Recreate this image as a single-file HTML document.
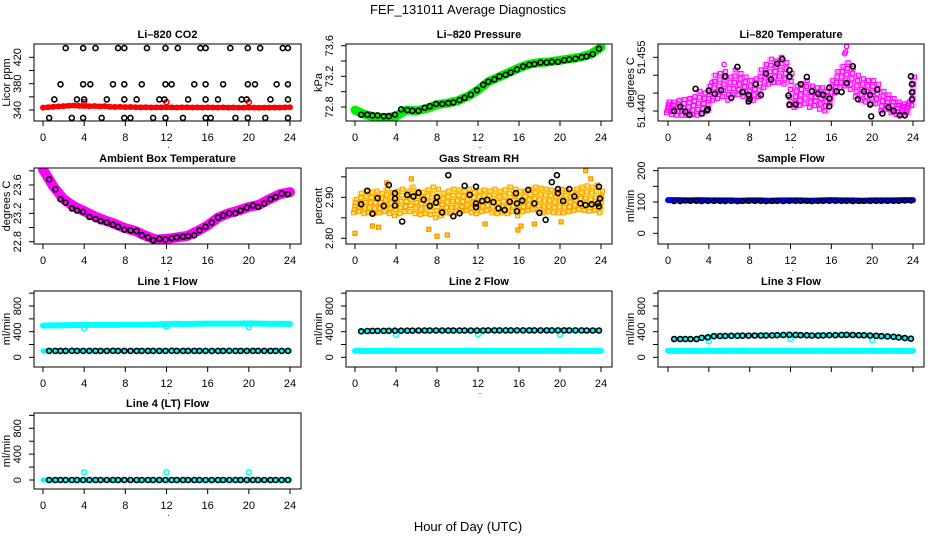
<!DOCTYPE html>
<html><head><meta charset="utf-8"><style>
html,body{margin:0;padding:0;background:#fff;}
svg{display:block;font-family:"Liberation Sans",sans-serif;}
</style></head><body>
<svg id="fig" width="936" height="540" viewBox="0 0 936 540" xmlns="http://www.w3.org/2000/svg">
<text x="468" y="14" text-anchor="middle" font-size="13">FEF_131011  Average Diagnostics</text>
<text x="468" y="531" text-anchor="middle" font-size="13">Hour of Day (UTC)</text>
</svg>
<script>
// ---------- data ----------
const tBlk = [0.6,1.2,1.7,2.2,2.8,3.3,3.9,4.5,5.1,5.6,6.2,6.8,7.3,7.9,8.5,9.1,9.6,10.2,10.7,11.3,11.9,12.5,13.0,13.6,14.1,14.7,15.2,15.8,16.4,17.0,17.5,18.1,18.7,19.2,19.8,20.4,20.9,21.5,22.1,22.6,23.2,23.8];
const tHour = [0,1,2,3,4,5,6,7,8,9,10,11,12,13,14,15,16,17,18,19,20,21,22,23,24];
const tHalf = [0,0.5,1,1.5,2,2.5,3,3.5,4,4.5,5,5.5,6,6.5,7,7.5,8,8.5,9,9.5,10,10.5,11,11.5,12,12.5,13,13.5,14,14.5,15,15.5,16,16.5,17,17.5,18,18.5,19,19.5,20,20.5,21,21.5,22,22.5,23,23.5,24];
const tSpike = [4,12,20];

// CO2
const co2Red = [343.6,344.2,344.8,345.3,345.9,346.5,346.8, 346.2,346.0,345.6,346.1,345.4,345.8,345.0, 344.6,344.8,344.3,344.5,344.2,344.0,344.2, 343.8,344.0,343.9,344.1,344.0,343.8,343.9, 344.0,343.8,343.9,343.7,343.9,343.8,343.7, 343.9,343.6,343.8,343.7,343.6,343.8,343.7, 343.5,343.7,343.6,343.8,343.7,343.9,344.2];
const co2RedSpike = [352,352,352];
const co2BlkT = [2.2,3.9,5.1,7.3,7.9,10.1,11.9,13.1,15.3,15.8,18.2,19.9,21.1,23.3,23.8, 1.7,3.9,4.6,6.8,7.9,9.6,11.9,12.5,14.7,15.8,17.5,19.9,20.6,22.7,23.8, 1.1,3.3,4.0,6.2,7.9,9.1,11.3,11.8,14.1,15.8,17.0,19.3,19.8,22.1,23.8, 0.6,2.8,3.9,5.7,7.9,8.5,10.7,11.9,13.6,15.8,16.3,18.7,19.9,21.6,23.8];
const co2BlkV = [434,434,434,434,434,434,434,434,434,434,434,434,434,434,434, 379,379,379,379,379,379,379,379,379,379,379,379,379,379,379, 356,356,356,356,356,356,356,356,356,356,356,356,356,356,356, 328,328,328,328,328,328,328,328,328,328,328,328,328,328,328];

// Pressure
const presGreen = [72.76,72.70,72.67,72.66,72.68,72.76,72.75,72.78,72.83,72.85,72.88,72.94,73.02,73.13,73.19,73.25,73.31,73.36,73.38,73.39,73.41,73.43,73.45,73.49,73.58];
const presBlk = [72.70,72.70,72.69,72.69,72.68,72.68,72.70,72.77,72.76,72.75,72.75,72.79,72.81,72.84,72.84,72.85,72.86,72.89,72.92,72.96,73.02,73.09,73.13,73.16,73.20,73.22,73.25,73.29,73.33,73.35,73.36,73.38,73.38,73.39,73.39,73.41,73.42,73.43,73.45,73.46,73.49,73.56];

// Li-820 temperature
const tempLo = [51.4395,51.4390,51.4388,51.4388,51.4388,51.4390,51.4388,51.4392,51.4400,51.4430,51.4435,51.4440,51.4430,51.4445,51.4445,51.4440,51.4425,51.4430,51.4440,51.4465,51.4475,51.4480,51.4480,51.4475,51.4415,51.4410,51.4415,51.4420,51.4410,51.4415,51.4405,51.4400,51.4420,51.4450,51.4465,51.4470,51.4460,51.4440,51.4430,51.4425,51.4420,51.4420,51.4400,51.4405,51.4395,51.4390,51.4390,51.4395,51.4415];
const tempHi = [51.4425,51.4425,51.4430,51.4432,51.4435,51.4440,51.4455,51.4450,51.4470,51.4500,51.4505,51.4510,51.4495,51.4515,51.4505,51.4495,51.4485,51.4490,51.4515,51.4530,51.4545,51.4540,51.4550,51.4535,51.4505,51.4470,51.4475,51.4485,51.4470,51.4465,51.4465,51.4455,51.4485,51.4510,51.4525,51.4535,51.4520,51.4500,51.4490,51.4485,51.4485,51.4475,51.4455,51.4445,51.4435,51.4425,51.4420,51.4425,51.4495];
const tempBlkT = [0.6,1.2,1.7,2.1,2.7,3.3,3.8,3.9,4.0,4.6,5.2,5.6,6.2,6.8,7.3,7.9,7.9,8.0,8.6,9.1,9.6,10.1,10.7,11.2,11.9,11.9,11.8,11.9,12.5,13.0,13.6,14.1,14.7,15.2,15.8,15.8,15.8,16.5,17.0,17.5,18.1,18.6,19.2,19.8,19.8,19.9,20.5,21.0,21.6,22.1,22.7,23.2,23.8,23.9,23.9,23.9];
const tempBlkV = [51.4400,51.4412,51.4398,51.4389,51.4462,51.4393,51.4402,51.4405,51.4457,51.4448,51.4458,51.4497,51.4437,51.4523,51.4453,51.4445,51.4427,51.4433,51.4475,51.4445,51.4505,51.4488,51.4532,51.4545,51.4514,51.4496,51.4443,51.4418,51.4418,51.4475,51.4495,51.4455,51.4448,51.4445,51.4435,51.4465,51.4413,51.4455,51.4453,51.4478,51.4525,51.4433,51.4455,51.4445,51.4418,51.4385,51.4460,51.4393,51.4410,51.4400,51.4388,51.4388,51.4497,51.4475,51.4452,51.4432];
const tempSpikeT = [17.3,17.5,17.4,4.3,5.5];
const tempSpikeV = [51.4560,51.4580,51.4565,51.4480,51.4530];

// Ambient box temperature
const ambMag = [23.82,23.58,23.40,23.30,23.23,23.16,23.10,23.05,22.99,22.95,22.88,22.83,22.84,22.86,22.88,22.95,23.03,23.14,23.20,23.24,23.29,23.32,23.40,23.47,23.50];
const ambBlk = [23.68,23.54,23.40,23.35,23.27,23.24,23.22,23.15,23.12,23.09,23.07,23.04,23.01,22.97,22.96,22.95,22.89,22.86,22.82,22.84,22.83,22.85,22.86,22.87,22.88,22.89,22.96,23.01,23.07,23.14,23.17,23.20,23.20,23.24,23.28,23.31,23.29,23.34,23.40,23.43,23.48,23.47];

// Gas stream RH
const rhLo = [2.862,2.865,2.860,2.862,2.860,2.862,2.865,2.860,2.855,2.860,2.865,2.865,2.860,2.858,2.860,2.858,2.850,2.855,2.862,2.860,2.865,2.865,2.868,2.862,2.860,2.865,2.868,2.862,2.860,2.862,2.860,2.865,2.855,2.865,2.868,2.870,2.865,2.862,2.865,2.862,2.862,2.862,2.865,2.868,2.870,2.868,2.866,2.868,2.862];
const rhHi = [2.895,2.910,2.915,2.912,2.915,2.910,2.920,2.912,2.915,2.920,2.915,2.925,2.915,2.912,2.918,2.925,2.920,2.910,2.915,2.920,2.918,2.915,2.920,2.912,2.915,2.918,2.915,2.920,2.915,2.918,2.925,2.920,2.915,2.915,2.920,2.925,2.922,2.920,2.918,2.915,2.920,2.918,2.912,2.920,2.925,2.928,2.925,2.930,2.915];
const rhOutT = [0,1.7,2.3,7.2,8.0,9.0,12.7,15.9,16.2,17.5,22.5,5.5,23.0,3.1,20.1];
const rhOutV = [2.812,2.830,2.827,2.822,2.805,2.808,2.835,2.820,2.830,2.835,2.965,2.945,2.945,2.935,2.840];
const rhBlkT = [0.6,1.2,1.7,2.2,2.8,3.3,3.9,3.9,3.9,4.6,5.1,5.7,6.2,6.7,7.3,7.9,8.0,8.5,9.1,9.6,10.2,10.7,11.2,11.8,11.8,11.8,12.4,12.9,13.5,14.0,14.6,15.1,15.7,15.8,15.8,16.3,16.9,17.5,18.0,18.6,19.2,19.7,19.8,19.8,20.3,20.9,21.4,22.0,22.5,23.1,23.7,23.8,23.8,23.9];
const rhBlkV = [2.883,2.916,2.860,2.898,2.879,2.930,2.910,2.897,2.880,2.841,2.906,2.902,2.911,2.894,2.879,2.887,2.900,2.863,2.954,2.854,2.861,2.928,2.906,2.926,2.885,2.876,2.891,2.894,2.888,2.873,2.869,2.889,2.910,2.885,2.866,2.892,2.918,2.885,2.862,2.845,2.937,2.954,2.920,2.910,2.891,2.920,2.902,2.885,2.881,2.883,2.885,2.926,2.878,2.897];

// Sample flow
const sfBlue = [106,106,105,106,105,105,105,104,105,105,104,105,105,105,104,105,106,105,105,104,105,105,105,106,106];
const sfBlk = [102,102,104,103,103,102,103,103,103,102,103,102,103,103,103,103,102,103,103,102,103,103,103,103,102,103,103,103,103,103,103,102,103,103,103,103,103,103,103,103,104,104];

// Line flows
const l1Cyan = [495,498,500,502,505,505,505,506,508,508,510,510,520,522,520,524,526,526,525,526,528,526,524,522,520];
const l1Blk = [100,100,100,100,101,100,100,100,100,100,100,101,100,100,100,100,100,100,100,100,100,101,100,100,100,100,100,100,100,100,100,101,100,100,100,100,100,100,100,100,100,100];
const l1Spike = [455,480,470];
const l2Cyan = [100,100,100,100,100,100,100,100,100,100,100,100,100,100,100,100,100,100,100,100,100,100,100,100,100];
const l2Blk = [405,410,412,412,412,413,415,415,416,416,418,418,418,418,418,418,418,418,418,418,418,418,420,420,420,420,420,420,420,420,420,420,420,420,420,420,420,420,420,418,418,418];
const l2Spike = [350,360,355];
const l3Cyan = [100,100,100,100,100,100,100,100,100,100,100,100,100,100,100,100,100,100,100,100,100,100,100,100,100];
const l3Blk = [285,285,285,285,285,305,312,330,332,333,335,335,338,338,340,340,340,342,345,348,350,348,345,343,340,340,342,345,345,348,350,348,345,343,340,335,330,325,320,310,300,290];
const l3Spike = [250,285,270];
const l4Cyan = [0,0,0,0,0,0,0,0,0,0,0,0,0,0,0,0,0,0,0,0,0,0,0,0,0];
const l4Blk = [0,0,0,0,0,0,0,0,0,0,0,0,0,0,0,0,0,0,0,0,0,0,0,0,0,0,0,0,0,0,0,0,0,0,0,0,0,0,0,0,0,0];
const l4Spike = [120,120,120];

const xTicks = [0,4,8,12,16,20,24];

// ---------- drawing ----------
const NS = 'http://www.w3.org/2000/svg';
const svg = document.getElementById('fig');
const COLS = [[34,301,43,290],[346,612,355,601],[658,924,668,913]];
const ROWS = [[44,121],[168,244],[291,367],[413,489]];

function mk(parent, tag, attrs, name) {
  const el = document.createElementNS(NS, tag);
  for (const k in attrs) el.setAttribute(k, attrs[k]);
  
  
  parent.appendChild(el);
  return el;
}

function panel(cfg) {
  const [L, R, x0, x24] = COLS[cfg.col];
  const [T, B] = ROWS[cfg.row];
  const g = mk(svg, 'g', {}, cfg.name);
  const X = h => x0 + h * (x24 - x0) / 24;
  const Y = v => cfg.y1 + (v - cfg.v1) * (cfg.y2 - cfg.y1) / (cfg.v2 - cfg.v1);
  const cid = 'clip-' + cfg.name;
  const cp = mk(g, 'clipPath', {id: cid}, cfg.name + '-clip');
  mk(cp, 'rect', {x: L, y: T, width: R - L, height: B - T}, cfg.name + '-clip-rect');
  const plot = mk(g, 'g', {'clip-path': 'url(#' + cid + ')'}, cfg.name + '-plot-area');
  const t = mk(g, 'text', {x: (L + R) / 2, y: T - 6, 'text-anchor': 'middle', 'font-size': 11, 'font-weight': 'bold'}, cfg.name + '-title');
  t.textContent = cfg.title;
  xTicks.forEach(h => {
    mk(g, 'line', {x1: X(h), x2: X(h), y1: B, y2: B + 5, stroke: '#000'}, 'x-tick');
    if (cfg.xlabels) {
      const tx = mk(g, 'text', {x: X(h), y: B + 20, 'text-anchor': 'middle', 'font-size': 11}, 'x-tick-label');
      tx.textContent = h;
    }
  });
  if (cfg.xlabels) {
    const d = mk(g, 'text', {x: X(12) + 2, y: B + 27, 'text-anchor': 'middle', 'font-size': 9}, 'x-axis-label');
    d.textContent = '.';
  }
  cfg.ticks.forEach(v => {
    mk(g, 'line', {x1: L - 5, x2: L, y1: Y(v), y2: Y(v), stroke: '#000'}, 'y-tick');
  });
  cfg.labels.forEach((lab, i) => {
    const yy = Y(cfg.labelVals[i]);
    const tx = mk(g, 'text', {x: L - 13, y: yy, 'text-anchor': 'middle', 'font-size': 11, transform: 'rotate(-90 ' + (L - 13) + ' ' + yy + ')'}, 'y-tick-label');
    tx.textContent = lab;
  });
  const yt = mk(g, 'text', {x: L - 24, y: (T + B) / 2, 'text-anchor': 'middle', 'font-size': 11, transform: 'rotate(-90 ' + (L - 24) + ' ' + ((T + B) / 2) + ')'}, 'y-axis-title');
  yt.textContent = cfg.ylab;
  mk(g, 'rect', {x: L, y: T, width: R - L, height: B - T, fill: 'none', stroke: '#000'}, cfg.name + '-frame');
  return {g: plot, X, Y};
}

function band(p, ts, vs, color, w, name) {
  const pts = ts.map((h, i) => p.X(h).toFixed(1) + ',' + p.Y(vs[i]).toFixed(1)).join(' ');
  mk(p.g, 'polyline', {points: pts, fill: 'none', stroke: color, 'stroke-width': w, 'stroke-linejoin': 'round', 'stroke-linecap': 'round'}, name);
}
function pts(p, ts, vs, color, r, sw, name) {
  ts.forEach((h, i) => {
    mk(p.g, 'circle', {cx: p.X(h), cy: p.Y(vs[i]), r: r, fill: 'none', stroke: color, 'stroke-width': sw}, name);
  });
}
function cloud(p, ts, lo, hi, fillc, strokec, name) {
  ts.forEach((h, i) => {
    const yl = p.Y(lo[i]), yh = p.Y(hi[i]);
    mk(p.g, 'rect', {x: p.X(h) - 3, y: Math.min(yl, yh) - 2, width: 6.5, height: Math.abs(yl - yh) + 4, fill: fillc}, name);
    [0, 0.25, 0.5, 0.75, 1].forEach(f => {
      const v = lo[i] + (hi[i] - lo[i]) * f;
      mk(p.g, 'rect', {x: p.X(h + (f - 0.5) * 0.3) - 2, y: p.Y(v) - 2, width: 4, height: 4, fill: 'none', stroke: strokec, 'stroke-width': 1}, name + '-point');
    });
  });
}

const flowTicks = [0,200,400,600,800,1000];

let p = panel({name: 'co2-panel', col: 0, row: 0, title: 'Li\u2013820 CO2', ylab: 'Licor ppm', v1: 340, y1: 110, v2: 420, y2: 57.3, ticks: [340,360,380,400,420], labels: ['340','380','420'], labelVals: [340,380,420], xlabels: true});
band(p, tHalf, co2Red, '#ff0000', 5, 'co2-red-band');
pts(p, tHalf, co2Red, '#ff0000', 2.3, 1.4, 'co2-red-point');
pts(p, tSpike, co2RedSpike, '#ff0000', 2.5, 1.5, 'co2-red-spike');
pts(p, co2BlkT, co2BlkV, '#000', 2.5, 1.6, 'co2-black-point');

p = panel({name: 'pressure-panel', col: 1, row: 0, title: 'Li\u2013820 Pressure', ylab: 'kPa', v1: 72.8, y1: 107, v2: 73.6, y2: 45.7, ticks: [72.8,73.0,73.2,73.4,73.6], labels: ['72.8','73.2','73.6'], labelVals: [72.8,73.2,73.6], xlabels: true});
band(p, tHour, presGreen, '#00ee00', 9, 'pressure-green-band');
pts(p, tBlk, presBlk, '#000', 2.5, 1.6, 'pressure-black-point');

p = panel({name: 'temperature-panel', col: 2, row: 0, title: 'Li\u2013820 Temperature', ylab: 'degrees C', v1: 51.440, y1: 111, v2: 51.455, y2: 57.3, ticks: [51.440,51.445,51.450,51.455], labels: ['51.440','51.455'], labelVals: [51.440,51.455], xlabels: true});
cloud(p, tHalf, tempLo, tempHi, 'rgba(255,0,255,0.3)', '#ff00ff', 'temperature-magenta');
pts(p, tempSpikeT, tempSpikeV, '#ff00ff', 2.2, 1.3, 'temperature-magenta-spike');
pts(p, tempBlkT, tempBlkV, '#000', 2.5, 1.6, 'temperature-black-point');

p = panel({name: 'ambient-panel', col: 0, row: 1, title: 'Ambient Box Temperature', ylab: 'degrees C', v1: 22.8, y1: 241.7, v2: 23.6, y2: 185, ticks: [22.8,23.0,23.2,23.4,23.6,23.8], labels: ['22.8','23.2','23.6'], labelVals: [22.8,23.2,23.6], xlabels: true});
band(p, tHour, ambMag, '#ff00ff', 10, 'ambient-magenta-band');
pts(p, tBlk, ambBlk, '#000', 2.5, 1.6, 'ambient-black-point');

p = panel({name: 'rh-panel', col: 1, row: 1, title: 'Gas Stream RH', ylab: 'percent', v1: 2.80, y1: 238.3, v2: 2.90, y2: 197.3, ticks: [2.80,2.85,2.90,2.95], labels: ['2.80','2.90'], labelVals: [2.80,2.90], xlabels: true});
cloud(p, tHalf, rhLo, rhHi, 'rgba(255,215,0,0.55)', '#ff9900', 'rh-orange');
rhOutT.forEach((h, i) => {
  mk(p.g, 'rect', {x: p.X(h) - 2, y: p.Y(rhOutV[i]) - 2, width: 4, height: 4, fill: '#ffd700', stroke: '#ff8c00', 'stroke-width': 1.2}, 'rh-orange-outlier');
});
pts(p, rhBlkT, rhBlkV, '#000', 2.5, 1.6, 'rh-black-point');

p = panel({name: 'sample-flow-panel', col: 2, row: 1, title: 'Sample Flow', ylab: 'ml/min', v1: 0, y1: 233.3, v2: 200, y2: 170.7, ticks: [0,50,100,150,200], labels: ['0','100','200'], labelVals: [0,100,200], xlabels: true});
band(p, tHour, sfBlue, '#0000ff', 6, 'sample-flow-blue-band');
pts(p, tBlk, sfBlk, '#000', 2.3, 1.5, 'sample-flow-black-point');

p = panel({name: 'line1-flow-panel', col: 0, row: 2, title: 'Line 1 Flow', ylab: 'ml/min', v1: 0, y1: 357.3, v2: 800, y2: 306, ticks: flowTicks, labels: ['0','400','800'], labelVals: [0,400,800], xlabels: true});
band(p, tHour, l1Cyan, '#00ffff', 6, 'line1-cyan-band');
pts(p, tSpike, l1Spike, '#00ffff', 2.5, 1.5, 'line1-cyan-spike');
band(p, [0,24], [100,100], '#00ffff', 5, 'line1-cyan-low');
pts(p, tBlk, l1Blk, '#000', 2.5, 1.6, 'line1-black-point');

p = panel({name: 'line2-flow-panel', col: 1, row: 2, title: 'Line 2 Flow', ylab: 'ml/min', v1: 0, y1: 357.3, v2: 800, y2: 306, ticks: flowTicks, labels: ['0','400','800'], labelVals: [0,400,800], xlabels: true});
band(p, tHour, l2Cyan, '#00ffff', 6, 'line2-cyan-band');
pts(p, tSpike, l2Spike, '#00ffff', 2.5, 1.5, 'line2-cyan-spike');
band(p, tBlk, l2Blk, '#00ffff', 5, 'line2-cyan-under');
pts(p, tBlk, l2Blk, '#000', 2.5, 1.6, 'line2-black-point');

p = panel({name: 'line3-flow-panel', col: 2, row: 2, title: 'Line 3 Flow', ylab: 'ml/min', v1: 0, y1: 357.3, v2: 800, y2: 306, ticks: flowTicks, labels: ['0','400','800'], labelVals: [0,400,800], xlabels: false});
band(p, tHour, l3Cyan, '#00ffff', 6, 'line3-cyan-band');
pts(p, tSpike, l3Spike, '#00ffff', 2.5, 1.5, 'line3-cyan-spike');
band(p, tBlk, l3Blk, '#00ffff', 5, 'line3-cyan-under');
pts(p, tBlk, l3Blk, '#000', 2.5, 1.6, 'line3-black-point');

p = panel({name: 'line4-flow-panel', col: 0, row: 3, title: 'Line 4 (LT) Flow', ylab: 'ml/min', v1: 0, y1: 480, v2: 800, y2: 428.3, ticks: flowTicks, labels: ['0','400','800'], labelVals: [0,400,800], xlabels: true});
band(p, tHour, l4Cyan, '#00ffff', 5, 'line4-cyan-band');
pts(p, tSpike, l4Spike, '#00ffff', 2.5, 1.5, 'line4-cyan-spike');
pts(p, tBlk, l4Blk, '#000', 2.5, 1.6, 'line4-black-point');
</script>
</body></html>
